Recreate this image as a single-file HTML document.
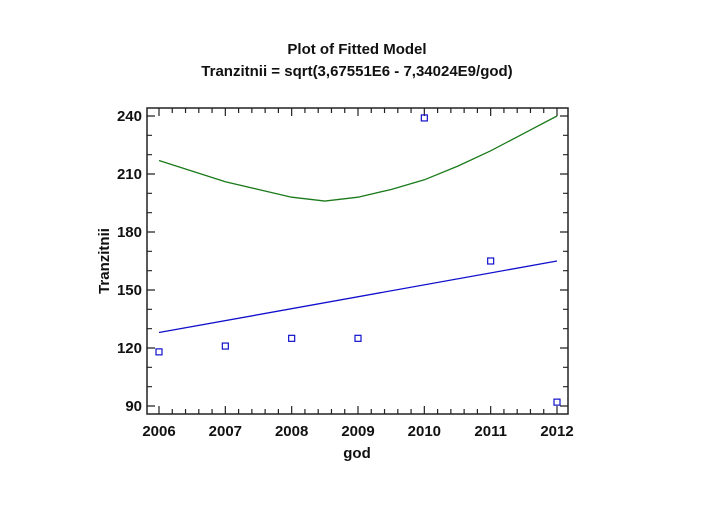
<!DOCTYPE html>
<html><head><meta charset="utf-8"><style>
body{margin:0;background:#fff;width:715px;height:522px;overflow:hidden}
text{font-family:"Liberation Sans",sans-serif;font-weight:bold;fill:#111}
</style></head><body>
<svg id="chart" width="715" height="522">
<text x="357" y="54" text-anchor="middle" font-size="15">Plot of Fitted Model</text>
<text x="357" y="76" text-anchor="middle" font-size="15">Tranzitnii = sqrt(3,67551E6 - 7,34024E9/god)</text>
<rect x="147" y="108" width="421" height="306" fill="none" stroke="#222" stroke-width="1.5"/>
<g id="axes"></g>
<g id="series"></g>
<text x="357" y="458" text-anchor="middle" font-size="15">god</text>
<text transform="translate(109,261) rotate(-90)" text-anchor="middle" font-size="15">Tranzitnii</text>
</svg>
<script>
const years=[2006,2007,2008,2009,2010,2011,2012];
const observed=[118,121,125,125,239,165,92];
const lowerX=[2006,2012];
const lowerY=[128,165];
const fitX=[2006,2006.5,2007,2007.5,2008,2008.5,2009,2009.5,2010,2010.5,2011,2011.5,2012];
const fitY=[217,211.5,206,202,198,196,198,202,207,214,222,231,240];
const xTicks=[2006,2007,2008,2009,2010,2011,2012];
const yTicks=[90,120,150,180,210,240];
const X=v=>159+(v-2006)*(557-159)/6;
const Y=v=>406-(v-90)*(406-116)/150;
const NS='http://www.w3.org/2000/svg';
const ax=document.getElementById('axes'),se=document.getElementById('series');
function mk(tag,attrs,parent){const e=document.createElementNS(NS,tag);for(const k in attrs)e.setAttribute(k,attrs[k]);parent.appendChild(e);return e;}
for(let v=2006;v<=2012.001;v+=0.2){const x=X(v),maj=Math.abs(v-Math.round(v))<0.01,L=maj?8:5;
 const t=mk('path',{d:`M${x},414v${-L}M${x},108v${L}`,stroke:'#222','stroke-width':1.2},ax);
 
 }
for(let v=90;v<=240;v+=10){const y=Y(v),maj=v%30==0,L=maj?8:5;
 const t=mk('path',{d:`M147,${y}h${L}M568,${y}h${-L}`,stroke:'#222','stroke-width':1.2},ax);
 
 }
xTicks.forEach(v=>{const t=mk('text',{x:X(v),y:436,'text-anchor':'middle','font-size':15},ax);t.textContent=v;
 
 });
yTicks.forEach(v=>{const t=mk('text',{x:142,y:Y(v)+5,'text-anchor':'end','font-size':15},ax);t.textContent=v;
 
 });
const l1=mk('polyline',{points:lowerX.map((x,i)=>X(x)+','+Y(lowerY[i])).join(' '),fill:'none',stroke:'#1010cc','stroke-width':1.3},se);


const l2=mk('polyline',{points:fitX.map((x,i)=>X(x)+','+Y(fitY[i])).join(' '),fill:'none',stroke:'#1a7a1a','stroke-width':1.3},se);


years.forEach((yr,i)=>{const p=mk('rect',{x:X(yr)-3,y:Y(observed[i])-3,width:6,height:6,fill:'none',stroke:'#1010cc','stroke-width':1.2},se);
 
 });
</script>
</body></html>
